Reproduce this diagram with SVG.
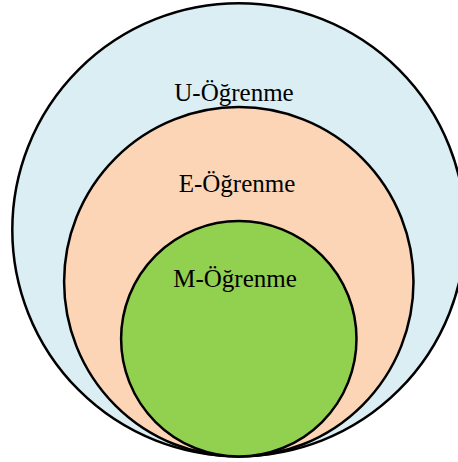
<svg xmlns="http://www.w3.org/2000/svg" width="458" height="462" viewBox="0 0 458 462">
<style>
.c{stroke:#000;stroke-width:2.5}
.t{font-family:"Liberation Serif","Times New Roman",serif;font-size:25px;fill:#000;text-anchor:middle}
</style>
<rect width="458" height="462" fill="#fff"/>
<g id="u-ogrenme">
<circle class="c" cx="238.8" cy="229.8" r="226.5" fill="#DAEEF3"/>
<text class="t" x="234" y="101">U-Öğrenme</text>
</g>
<g id="e-ogrenme">
<circle class="c" cx="238.8" cy="281.8" r="174.7" fill="#FBD5B5"/>
<text class="t" x="237" y="192">E-Öğrenme</text>
</g>
<g id="m-ogrenme">
<circle class="c" cx="238.8" cy="338.8" r="117.7" fill="#92D050"/>
<text class="t" x="235" y="287">M-Öğrenme</text>
</g>
<g id="connectors"></g>
</svg>
